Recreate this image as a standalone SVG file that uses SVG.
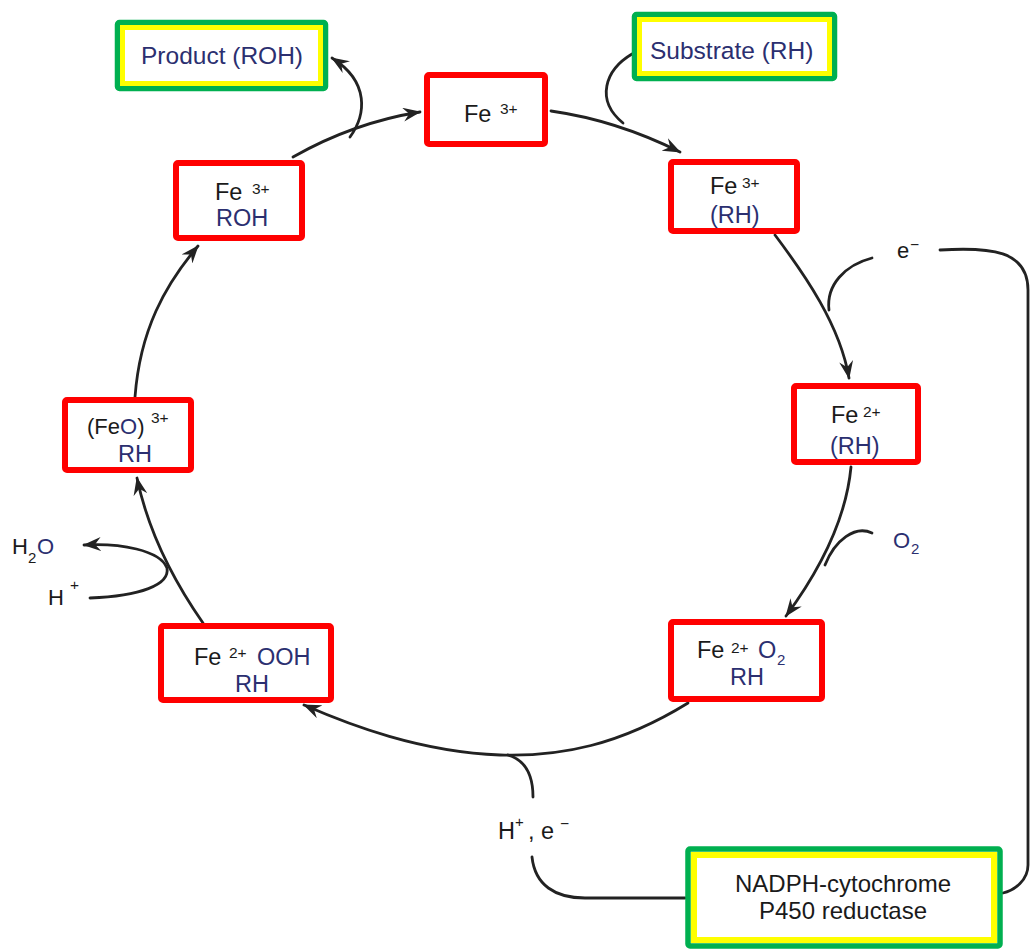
<svg xmlns="http://www.w3.org/2000/svg" width="1030" height="949" viewBox="0 0 1030 949">
<style>
.red{fill:#fff;stroke:#ff0000;stroke-width:6}
.grn{fill:#fff;stroke:#00b050;stroke-width:5.5}
.yel{fill:none;stroke:#ffff00;stroke-width:5}
.t{font-family:"Liberation Sans",Arial,sans-serif;font-size:23.5px;fill:#1a1a1a}
.n{fill:#2b2f70}
.sup{font-size:15.5px}
.sub{font-size:15px}
.ln{fill:none;stroke:#222;stroke-width:2.8;stroke-linecap:round}
</style>
<defs>
<marker id="arr" viewBox="0 0 18 14" refX="17" refY="7" markerWidth="18" markerHeight="14" markerUnits="userSpaceOnUse" orient="auto">
<path d="M0,0 L18,7 L0,14 L6,7 Z" fill="#222"/>
</marker>
</defs>
<rect width="1030" height="949" fill="#fff"/>
<g id="connectors">
<path class="ln" d="M293 157 C330 136 370 120 420 112" marker-end="url(#arr)"/>
<path class="ln" d="M350 137 C366 115 370 82 332 58" marker-end="url(#arr)"/>
<path class="ln" d="M551 111 C600 118 640 132 680 152" marker-end="url(#arr)"/>
<path class="ln" d="M632 54 C605 70 595 100 623 123"/>
<path class="ln" d="M775 235 C805 275 840 325 849 378" marker-end="url(#arr)"/>
<path class="ln" d="M872 258 C845 265 826 285 829 310"/>
<path class="ln" d="M940 250 C990 247 1028 250 1028 290 L1028 865 C1028 880 1015 890 1003 893"/>
<path class="ln" d="M851 467 C846 520 820 570 786 616" marker-end="url(#arr)"/>
<path class="ln" d="M872 533 C855 525 835 540 825 565"/>
<path class="ln" d="M688 703 C620 745 560 757 500 755 C420 752 350 725 304 705" marker-end="url(#arr)"/>
<path class="ln" d="M508 755 C525 760 533 775 533 797"/>
<path class="ln" d="M532 857 C535 885 555 898 585 898 L685 898"/>
<path class="ln" d="M203 623 C180 590 150 540 137 478" marker-end="url(#arr)"/>
<path class="ln" d="M90 598 C140 596 170 585 167 568 C160 550 120 543 84 545" marker-end="url(#arr)"/>
<path class="ln" d="M135 397 C140 330 165 285 198 246" marker-end="url(#arr)"/>
</g>
<g id="product">
<rect class="grn" x="117.5" y="22.5" width="208" height="66" rx="2"/>
<rect class="yel" x="122.5" y="27.5" width="198" height="56"/>
<text class="t n" x="141" y="64" style="font-size:24.5px">Product (ROH)</text>
</g>
<g id="substrate">
<rect class="grn" x="634.5" y="14.5" width="200" height="64" rx="2"/>
<rect class="yel" x="639.5" y="19.5" width="190" height="54"/>
<text class="t n" x="650" y="59" style="font-size:24.5px">Substrate (RH)</text>
</g>
<g id="nadph">
<rect class="grn" x="688" y="849" width="312" height="97" rx="2"/>
<rect class="yel" x="694" y="855" width="300" height="85" style="stroke-width:6"/>
<text class="t" x="843" y="892" text-anchor="middle" style="font-size:24px">NADPH-cytochrome</text>
<text class="t" x="843" y="919" text-anchor="middle" style="font-size:24px">P450 reductase</text>
</g>
<g id="fe3">
<rect class="red" x="427" y="75" width="118" height="69" rx="2"/>
<text class="t" x="464" y="122">Fe</text>
<text class="t sup" x="500" y="114">3+</text>
</g>
<g id="fe3rh">
<rect class="red" x="671" y="162" width="126" height="69" rx="2"/>
<text class="t" x="710" y="194">Fe</text>
<text class="t sup" x="742" y="188">3+</text>
<text class="t n" x="710" y="223">(RH)</text>
</g>
<g id="fe2rh">
<rect class="red" x="794" y="386" width="124" height="76" rx="2"/>
<text class="t" x="831" y="423">Fe</text>
<text class="t sup" x="863" y="417">2+</text>
<text class="t n" x="830" y="454">(RH)</text>
</g>
<g id="fe2o2">
<rect class="red" x="671" y="622" width="151" height="77" rx="2"/>
<text class="t" x="697" y="658">Fe</text>
<text class="t sup" x="731" y="653">2+</text>
<text class="t n" x="758" y="658">O</text>
<text class="t n sub" x="777" y="665">2</text>
<text class="t n" x="730" y="685">RH</text>
</g>
<g id="fe2ooh">
<rect class="red" x="161" y="626" width="170" height="74" rx="2"/>
<text class="t" x="194" y="665">Fe</text>
<text class="t sup" x="229" y="658">2+</text>
<text class="t n" x="257" y="665">OOH</text>
<text class="t n" x="235" y="692">RH</text>
</g>
<g id="feo">
<rect class="red" x="65" y="400" width="126" height="70" rx="2"/>
<text class="t" x="87" y="434" style="font-size:22px">(Fe<tspan class="n">O</tspan>)</text>
<text class="t sup" x="151" y="423">3+</text>
<text class="t n" x="118" y="462">RH</text>
</g>
<g id="fe3roh">
<rect class="red" x="176" y="163" width="126" height="75" rx="2"/>
<text class="t" x="215" y="200">Fe</text>
<text class="t sup" x="252" y="194">3+</text>
<text class="t n" x="216" y="226">ROH</text>
</g>
<g id="labels">
<text class="t" x="897" y="258" style="font-size:22px">e</text>
<text class="t sup" x="910" y="250">−</text>
<text class="t n" x="893" y="548" style="font-size:22px">O</text>
<text class="t n sub" x="911" y="554">2</text>
<text class="t" x="12" y="554" style="font-size:22px">H</text>
<text class="t sub" x="28" y="563">2</text>
<text class="t n" x="37" y="554" style="font-size:22px">O</text>
<text class="t" x="48" y="605" style="font-size:22px">H</text>
<text class="t sup" x="70" y="590">+</text>
<text class="t" x="498" y="839" style="font-size:23.5px">H</text>
<text class="t sub" x="515" y="827">+</text>
<text class="t" x="528" y="839" style="font-size:23.5px">, e</text>
<text class="t sup" x="560" y="829">−</text>
</g>
</svg>
